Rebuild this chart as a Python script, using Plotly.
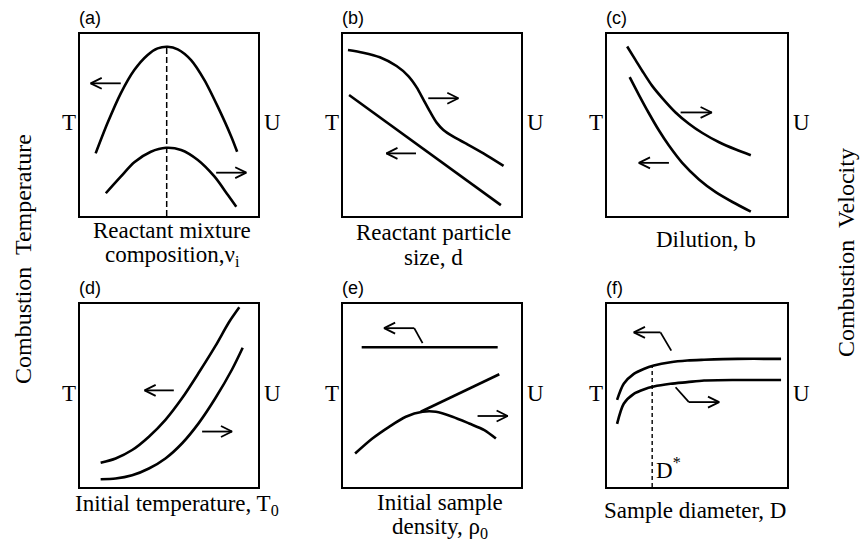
import plotly.graph_objects as go

W, H = 861, 544

# ---------------- data (schematic curves, axis units 0-10) ----------------
# (a) reactant mixture composition
A_T_X = [0.88, 1.54, 2.29, 3.05, 3.80, 4.36, 4.92, 5.49, 6.24, 6.99, 7.74, 8.50, 8.83]
A_T_Y = [3.44, 5.09, 6.74, 8.02, 8.85, 9.21, 9.30, 9.16, 8.57, 7.47, 6.01, 4.36, 3.53]
A_U_X = [1.45, 2.29, 3.05, 3.98, 4.83, 5.68, 6.62, 7.56, 8.31, 8.78]
A_U_Y = [1.25, 2.16, 2.95, 3.53, 3.75, 3.63, 3.08, 2.16, 1.15, 0.51]
A_PEAK_X = [4.87, 4.87]
A_PEAK_Y = [0.0, 9.30]
A_ARROWS = [[2.29, 7.29, 0.60, 7.29], [7.65, 2.38, 9.34, 2.38]]  # tail x,y -> head x,y

# (b) reactant particle size
B_U_X = [0.28, 1.13, 2.07, 3.01, 3.67, 4.14, 4.51, 4.89, 5.26, 5.64, 6.20, 6.95, 7.89, 9.02]
B_U_Y = [9.12, 8.97, 8.72, 8.24, 7.69, 7.07, 6.41, 5.73, 5.13, 4.73, 4.36, 3.96, 3.44, 2.75]
B_T_X = [0.34, 4.51, 8.87]
B_T_Y = [6.65, 3.69, 0.60]
B_ARROWS = [[4.79, 6.47, 6.48, 6.47], [4.10, 3.44, 2.44, 3.44]]

# (c) dilution
C_U_X = [1.12, 1.58, 2.04, 2.51, 3.07, 3.81, 4.55, 5.30, 6.23, 7.16, 7.99]
C_U_Y = [9.31, 8.58, 7.85, 7.15, 6.48, 5.69, 5.07, 4.56, 4.05, 3.65, 3.34]
C_T_X = [1.26, 1.77, 2.32, 2.88, 3.44, 4.18, 5.11, 6.04, 6.97, 7.99]
C_T_Y = [7.63, 6.66, 5.66, 4.71, 3.87, 2.92, 2.01, 1.31, 0.77, 0.24]
C_ARROWS = [[4.09, 5.69, 5.82, 5.69], [3.44, 2.92, 1.77, 2.92]]

# (d) initial temperature
D_T_X = [1.16, 2.00, 2.93, 3.87, 4.80, 5.74, 6.67, 7.61, 8.36, 8.95]
D_T_Y = [1.32, 1.56, 2.02, 2.75, 3.67, 4.86, 6.24, 7.71, 8.99, 9.82]
D_U_X = [1.16, 2.00, 2.93, 3.87, 4.80, 5.74, 6.67, 7.61, 8.54, 9.14]
D_U_Y = [0.42, 0.46, 0.64, 1.01, 1.56, 2.39, 3.49, 4.86, 6.42, 7.61]
D_ARROWS = [[5.27, 5.28, 3.63, 5.28], [6.86, 3.03, 8.54, 3.03]]

# (e) initial sample density
E_T_X = [1.05, 8.69]
E_T_Y = [7.64, 7.64]
E_U_X = [0.68, 1.65, 2.59, 3.53, 4.47, 5.22, 6.15, 7.09, 7.94, 8.59]
E_U_Y = [1.83, 2.65, 3.29, 3.84, 4.11, 4.11, 3.84, 3.47, 3.11, 2.65]
E_U2_X = [4.37, 8.78]
E_U2_Y = [4.11, 6.16]
E_LEADER_X = [4.47, 4.00]
E_LEADER_Y = [7.86, 8.68]
E_ARROWS = [[4.00, 8.68, 2.31, 8.68], [7.56, 3.88, 9.25, 3.88]]

# (f) sample diameter
F_T_X = [0.56, 0.93, 1.49, 2.04, 2.60, 3.53, 4.46, 5.39, 7.25, 9.67]
F_T_Y = [4.76, 5.64, 6.18, 6.45, 6.64, 6.82, 6.91, 6.95, 7.00, 7.00]
F_U_X = [0.56, 0.93, 1.49, 2.04, 2.60, 3.53, 4.46, 5.39, 7.25, 9.67]
F_U_Y = [3.45, 4.55, 5.09, 5.33, 5.49, 5.64, 5.73, 5.82, 5.85, 5.85]
F_DSTAR_X = [2.51, 2.51]
F_DSTAR_Y = [0.0, 6.64]
F_LEADER1_X = [3.57, 2.97]
F_LEADER1_Y = [7.45, 8.45]
F_LEADER2_X = [3.81, 4.55]
F_LEADER2_Y = [5.45, 4.64]
F_ARROWS = [[2.97, 8.45, 1.49, 8.45], [4.55, 4.64, 6.23, 4.64]]

PANEL_TAGS = ["(a)", "(b)", "(c)", "(d)", "(e)", "(f)"]
XLABELS = [
    ["Reactant mixture", "composition,ν<sub>i</sub>"],
    ["Reactant particle", "size, d"],
    ["Dilution, b"],
    ["Initial temperature, T<sub>0</sub>"],
    ["Initial sample", "density, ρ<sub>0</sub>"],
    ["Sample diameter, D"],
]
SIDE_LEFT = "Combustion  Temperature"
SIDE_RIGHT = "Combustion  Velocity"

# ---------------- layout geometry (pixels) ----------------
COLS = [(80, 258), (343, 521), (607, 787)]
ROWS = [(34, 216), (304, 487)]
BOXES = [(COLS[i % 3], ROWS[i // 3]) for i in range(6)]
LABEL_Y = [[230, 255.5], [232, 257.5], [239], [505], [502, 527.5], [510]]
LABEL_DX = [3, 1, 9, 8, 8, -2]

SERIF = "Liberation Serif, Times New Roman, serif"
FS = 23
CURVE_W = 2.6
ARROW_W = 1.8
HEAD_LEN = 0.62   # axis units
HEAD_HALF = 0.30  # axis units

fig = go.Figure()
layout = dict(
    width=W, height=H, margin=dict(l=0, r=0, t=0, b=0),
    paper_bgcolor="white", plot_bgcolor="white", showlegend=False,
)
annotations = []


def px(x):
    return x / W


def py(y):
    return 1 - y / H


for i, ((xl, xr), (yt, yb)) in enumerate(BOXES):
    n = "" if i == 0 else str(i + 1)
    ax_common = dict(range=[0, 10], showgrid=False, zeroline=False, showticklabels=False,
                     ticks="", showline=True, mirror=True, linecolor="black", linewidth=1.6,
                     fixedrange=True)
    layout["xaxis" + n] = dict(domain=[px(xl), px(xr)], anchor="y" + n, **ax_common)
    layout["yaxis" + n] = dict(domain=[py(yb), py(yt)], anchor="x" + n, **ax_common)

    annotations.append(dict(xref="paper", yref="paper", x=px(xl - 3), y=py(yt - 16),
                            xanchor="left", yanchor="middle", text=PANEL_TAGS[i],
                            showarrow=False,
                            font=dict(family="Liberation Sans, Arial, sans-serif", size=18,
                                      color="black")))
    cy = (yt + yb) / 2 - 2
    annotations.append(dict(xref="paper", yref="paper", x=px(xl - 2), y=py(cy), xanchor="right",
                            yanchor="middle", text="T", showarrow=False,
                            font=dict(family=SERIF, size=FS, color="black")))
    annotations.append(dict(xref="paper", yref="paper", x=px(xr + 4), y=py(cy), xanchor="left",
                            yanchor="middle", text="U", showarrow=False,
                            font=dict(family=SERIF, size=FS, color="black")))
    for line, ly in zip(XLABELS[i], LABEL_Y[i]):
        annotations.append(dict(xref="paper", yref="paper", x=px((xl + xr) / 2 + LABEL_DX[i]),
                                y=py(ly), xanchor="center", yanchor="middle", text=line,
                                showarrow=False, font=dict(family=SERIF, size=FS, color="black")))


def axn(k):
    return "" if k == 0 else str(k + 1)


def curve(xs, ys, k, width=CURVE_W, dash="solid", smooth=True):
    n = axn(k)
    line = dict(color="black", width=width, dash=dash)
    if smooth:
        line.update(shape="spline", smoothing=0.8)
    fig.add_trace(go.Scatter(x=xs, y=ys, xaxis="x" + n, yaxis="y" + n, mode="lines",
                             line=line, hoverinfo="skip"))


def arrows(lst, k):
    n = axn(k)
    for tx, ty, hx, hy in lst:
        d = 1 if hx > tx else -1
        xs = [tx, hx, None, hx - d * HEAD_LEN, hx, hx - d * HEAD_LEN]
        ys = [ty, hy, None, hy + HEAD_HALF, hy, hy - HEAD_HALF]
        fig.add_trace(go.Scatter(x=xs, y=ys, xaxis="x" + n, yaxis="y" + n, mode="lines",
                                 line=dict(color="black", width=ARROW_W), hoverinfo="skip"))


# (a)
curve(A_T_X, A_T_Y, 0)
curve(A_U_X, A_U_Y, 0)
curve(A_PEAK_X, A_PEAK_Y, 0, width=1.5, dash="6px,3px", smooth=False)
arrows(A_ARROWS, 0)
# (b)
curve(B_U_X, B_U_Y, 1)
curve(B_T_X, B_T_Y, 1, smooth=False)
arrows(B_ARROWS, 1)
# (c)
curve(C_U_X, C_U_Y, 2)
curve(C_T_X, C_T_Y, 2)
arrows(C_ARROWS, 2)
# (d)
curve(D_T_X, D_T_Y, 3)
curve(D_U_X, D_U_Y, 3)
arrows(D_ARROWS, 3)
# (e)
curve(E_T_X, E_T_Y, 4, smooth=False)
curve(E_U_X, E_U_Y, 4)
curve(E_U2_X, E_U2_Y, 4, smooth=False)
curve(E_LEADER_X, E_LEADER_Y, 4, width=ARROW_W, smooth=False)
arrows(E_ARROWS, 4)
# (f)
curve(F_T_X, F_T_Y, 5)
curve(F_U_X, F_U_Y, 5)
curve(F_DSTAR_X, F_DSTAR_Y, 5, width=1.4, dash="4px,3px", smooth=False)
curve(F_LEADER1_X, F_LEADER1_Y, 5, width=ARROW_W, smooth=False)
curve(F_LEADER2_X, F_LEADER2_Y, 5, width=ARROW_W, smooth=False)
arrows(F_ARROWS, 5)
annotations.append(dict(xref="x6", yref="y6", x=2.6, y=1.0, xanchor="left", yanchor="middle",
                        text="D<sup>*</sup>", showarrow=False,
                        font=dict(family=SERIF, size=FS, color="black")))

# side titles
annotations.append(dict(xref="paper", yref="paper", x=px(23), y=py(259), textangle=-90,
                        xanchor="center", yanchor="middle", text=SIDE_LEFT,
                        showarrow=False, font=dict(family=SERIF, size=24, color="black")))
annotations.append(dict(xref="paper", yref="paper", x=px(846), y=py(253), textangle=-90,
                        xanchor="center", yanchor="middle", text=SIDE_RIGHT,
                        showarrow=False, font=dict(family=SERIF, size=24, color="black")))

layout["annotations"] = annotations
fig.update_layout(**layout)
fig.write_html("out.html")
